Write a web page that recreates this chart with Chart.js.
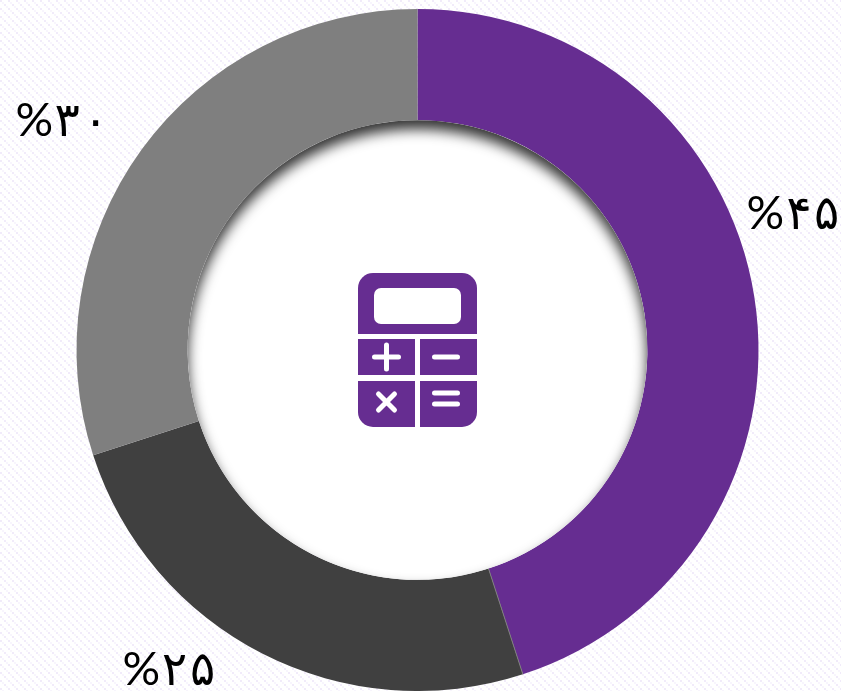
<!DOCTYPE html>
<html>
<head>
<meta charset="utf-8">
<title>Doughnut</title>
<script src="https://cdn.jsdelivr.net/npm/chart.js@4/dist/chart.umd.min.js"></script>
<style>
html, body { margin: 0; padding: 0; width: 841px; height: 691px; overflow: hidden; background-color: #fff; }
body { background-image: url("data:image/svg+xml,%3Csvg xmlns='http://www.w3.org/2000/svg' width='8' height='8'%3E%3Crect width='2' height='2' fill='%23f1ebfa'/%3E%3Crect x='4' y='4' width='2' height='2' fill='%23f1ebfa'/%3E%3Crect x='2' y='2' width='2' height='2' fill='%23f8f5fd'/%3E%3Crect x='6' y='6' width='2' height='2' fill='%23f8f5fd'/%3E%3C/svg%3E"); }
canvas { display: block; }
</style>
</head>
<body>
<canvas id="ringChart" width="841" height="691"></canvas>
<script>
const categories = ['۴۵', '۲۵', '۳۰'];
const shares = [45, 25, 30];
const sliceColors = ['#662d91', '#404040', '#7f7f7f'];

// text anchors, left/baseline, relative to ring centre
const labelOffsets = [[329, -121], [-295, 335], [-402, -214]];

function roundBox(ctx, x, y, w, h, r) {
    ctx.beginPath();
    ctx.roundRect(x, y, w, h, r);
    ctx.fill();
}

const ringExtras = {
    id: 'ringExtras',
    afterDatasetsDraw(chart) {
        const ctx = chart.ctx;
        const arcs = chart.getDatasetMeta(0).data;
        const { x, y, innerRadius, outerRadius, endAngle } = arcs[0];

        // seam between purple and dark slices
        ctx.save();
        ctx.strokeStyle = '#7d7d7d';
        ctx.lineWidth = 1;
        ctx.beginPath();
        ctx.moveTo(x + Math.cos(endAngle) * innerRadius, y + Math.sin(endAngle) * innerRadius);
        ctx.lineTo(x + Math.cos(endAngle) * outerRadius, y + Math.sin(endAngle) * outerRadius);
        ctx.stroke();
        ctx.restore();

        // white hole with the inner shadow, shape sits off canvas so only its shadow lands
        ctx.save();
        ctx.beginPath();
        ctx.arc(x, y, innerRadius, 0, Math.PI * 2);
        ctx.fillStyle = '#fff';
        ctx.fill();
        ctx.clip();
        ctx.beginPath();
        ctx.rect(x - 3000, y - 500, 1000, 1000);
        ctx.arc(x - 2500, y, innerRadius, 0, Math.PI * 2, true);
        ctx.fillStyle = '#000';
        ctx.shadowColor = 'rgba(0, 0, 0, 0.8)';
        ctx.shadowBlur = 13;
        ctx.shadowOffsetX = 2500;
        ctx.shadowOffsetY = 9;
        ctx.fill();
        ctx.restore();

        // calculator icon
        ctx.save();
        ctx.translate(x, y);
        ctx.fillStyle = '#662d91';
        roundBox(ctx, -59.5, -77, 119, 61, [15, 15, 0, 0]);
        roundBox(ctx, -59.5, -11, 57, 36, 0);
        roundBox(ctx, 2.5, -11, 57, 36, 0);
        roundBox(ctx, -59.5, 31, 57, 46, [0, 0, 0, 15]);
        roundBox(ctx, 2.5, 31, 57, 46, [0, 0, 15, 0]);
        ctx.fillStyle = '#fff';
        roundBox(ctx, -43.5, -62, 87, 36, 7);
        ctx.strokeStyle = '#fff';
        ctx.lineWidth = 5;
        ctx.lineCap = 'round';
        ctx.beginPath();
        ctx.moveTo(-43, 7); ctx.lineTo(-19, 7);
        ctx.moveTo(-31, -5); ctx.lineTo(-31, 19);
        ctx.moveTo(17, 7); ctx.lineTo(40, 7);
        ctx.moveTo(-39, 44); ctx.lineTo(-23, 60);
        ctx.moveTo(-23, 44); ctx.lineTo(-39, 60);
        ctx.moveTo(17, 43); ctx.lineTo(40, 43);
        ctx.moveTo(17, 54); ctx.lineTo(40, 54);
        ctx.stroke();
        ctx.restore();

        // percent labels
        ctx.save();
        ctx.fillStyle = '#000';
        ctx.font = '47px Lato, "DejaVu Sans Mono"';
        ctx.textAlign = 'left';
        ctx.textBaseline = 'alphabetic';
        categories.forEach((c, i) => {
            ctx.fillText('%' + c, x + labelOffsets[i][0], y + labelOffsets[i][1]);
        });
        ctx.restore();
    }
};

new Chart(document.getElementById('ringChart').getContext('2d'), {
    type: 'doughnut',
    data: {
        labels: categories,
        datasets: [{
            data: shares,
            backgroundColor: sliceColors,
            borderWidth: 0
        }]
    },
    options: {
        responsive: false,
        animation: false,
        cutout: '67.4%',
        layout: { padding: { top: 9, right: 6, bottom: 0, left: 0 } },
        plugins: { legend: { display: false }, tooltip: { enabled: false } }
    },
    plugins: [ringExtras]
});
</script>
</body>
</html>
